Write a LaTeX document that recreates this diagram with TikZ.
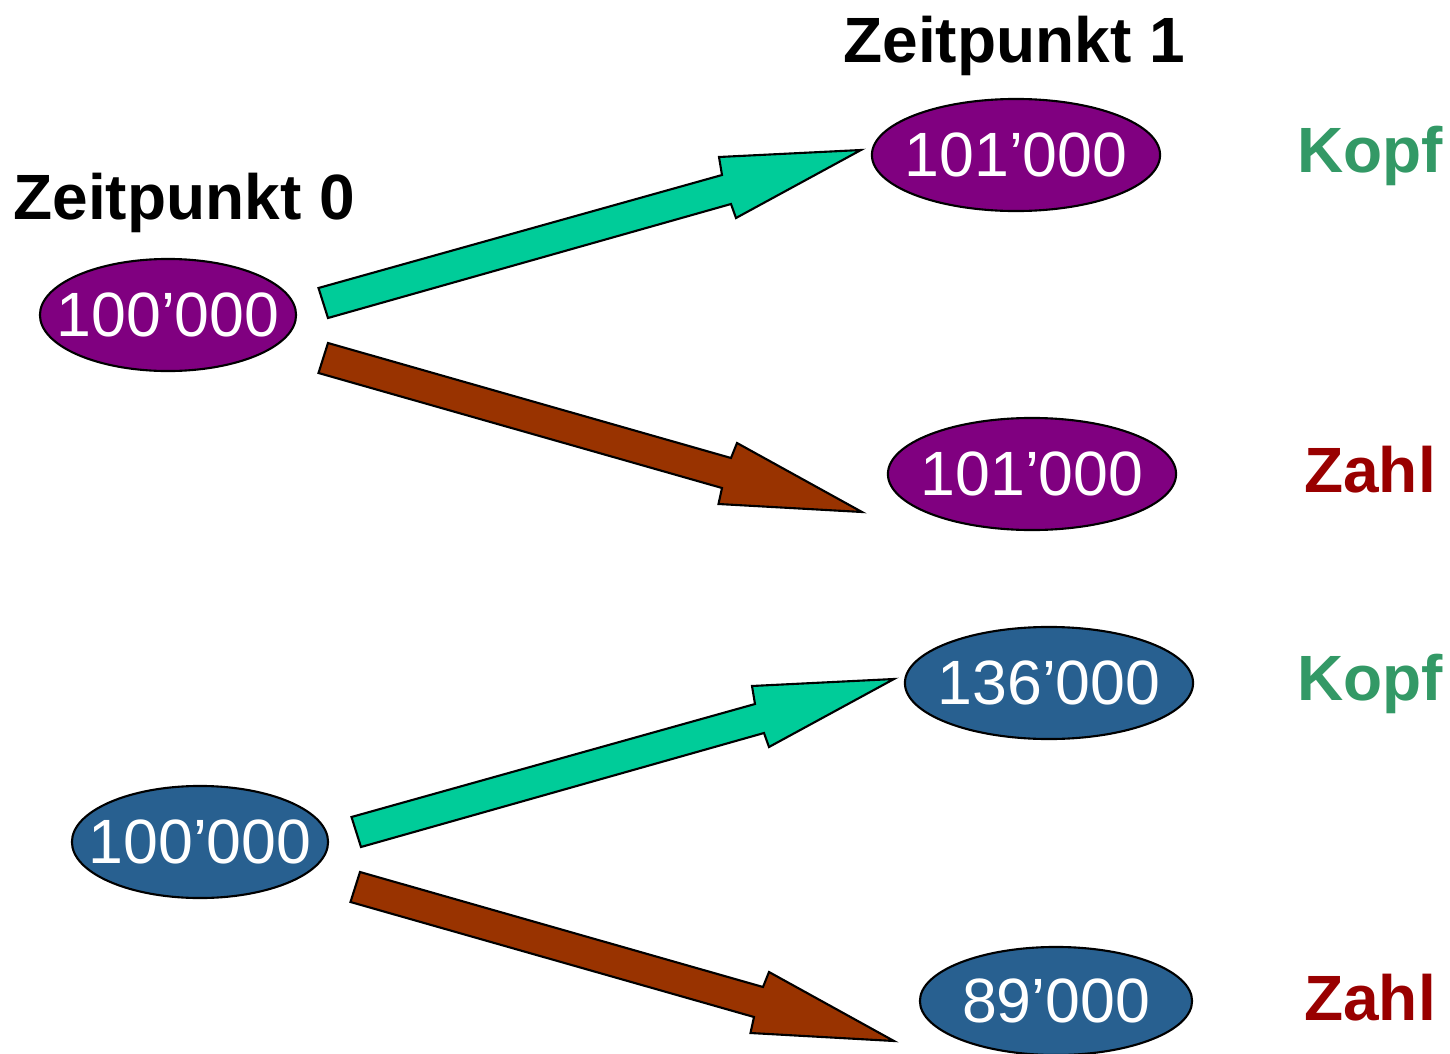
\documentclass[tikz,border=0pt]{standalone}
\usepackage{fontspec}
\setmainfont{Liberation Sans}
\usetikzlibrary{shapes.geometric}
\definecolor{ovpurple}{RGB}{128,0,128}
\definecolor{ovblue}{RGB}{40,96,144}
\definecolor{argreen}{RGB}{0,204,153}
\definecolor{arbrown}{RGB}{153,51,0}
\definecolor{kopfgreen}{RGB}{51,153,102}
\definecolor{zahlred}{RGB}{153,0,0}
\newcommand{\ovtext}[1]{\makebox[0pt]{#1}}
\tikzset{
  oval/.style={ellipse, draw=black, line width=0.6pt, inner sep=0pt,
    minimum height=1.12cm, text=white,
    font=\fontsize{17.8}{20}\selectfont},
  title/.style={anchor=base, font=\bfseries\fontsize{18.2}{20}\selectfont},
  outcome/.style={anchor=base, font=\bfseries\fontsize{18.2}{20}\selectfont},
  blockline/.style={draw=black, line width=0.6pt, line join=miter},
  greenarrow/.pic={\path[blockline, fill=argreen] (0,0) -- (403.5,-113) -- (400.5,-131) -- (542.5,-138) -- (417.5,-70) -- (412.5,-84) -- (9.5,30) -- cycle;},
  brownarrow/.pic={\path[blockline, fill=arbrown] (0,0) -- (403,115) -- (409,100) -- (534,169) -- (390.5,161) -- (394,145) -- (-9.5,30) -- cycle;}
}
\begin{document}
\begin{tikzpicture}[x=0.01cm, y=-0.01cm]
\useasboundingbox (0,0) rectangle (1450,1054);
% titles
\node[title] (z0) at (184,219) {Zeitpunkt 0};
\node[title] (z1) at (1014,62) {Zeitpunkt 1};
% ovals
\node[oval, fill=ovpurple, minimum width=2.56cm] (a0) at (168,315) {\ovtext{100’000}};
\node[oval, fill=ovpurple, minimum width=2.88cm] (a1) at (1016,155) {\ovtext{101’000}};
\node[oval, fill=ovpurple, minimum width=2.88cm] (a2) at (1032,474) {\ovtext{101’000}};
\node[oval, fill=ovblue, minimum width=2.88cm] (b1) at (1049,683) {\ovtext{136’000}};
\node[oval, fill=ovblue, minimum width=2.56cm] (b0) at (200,842) {\ovtext{100’000}};
\node[oval, fill=ovblue, minimum width=2.72cm, minimum height=1.08cm] (b2) at (1056,1001) {\ovtext{89’000}};
% outcome labels
\node[outcome, text=kopfgreen] (k1) at (1370,172) {Kopf};
\node[outcome, text=zahlred] (h1) at (1370,492) {Zahl};
\node[outcome, text=kopfgreen] (k2) at (1370,700) {Kopf};
\node[outcome, text=zahlred] (h2) at (1370,1020) {Zahl};
% block arrows
\coordinate (ga) at (318.5,288);
\coordinate (ba) at (328,343);
\coordinate (gb) at (351.5,817);
\coordinate (bb) at (360,872);
\pic at (ga) {greenarrow};
\pic at (ba) {brownarrow};
\pic at (gb) {greenarrow};
\pic at (bb) {brownarrow};
\end{tikzpicture}
\end{document}
